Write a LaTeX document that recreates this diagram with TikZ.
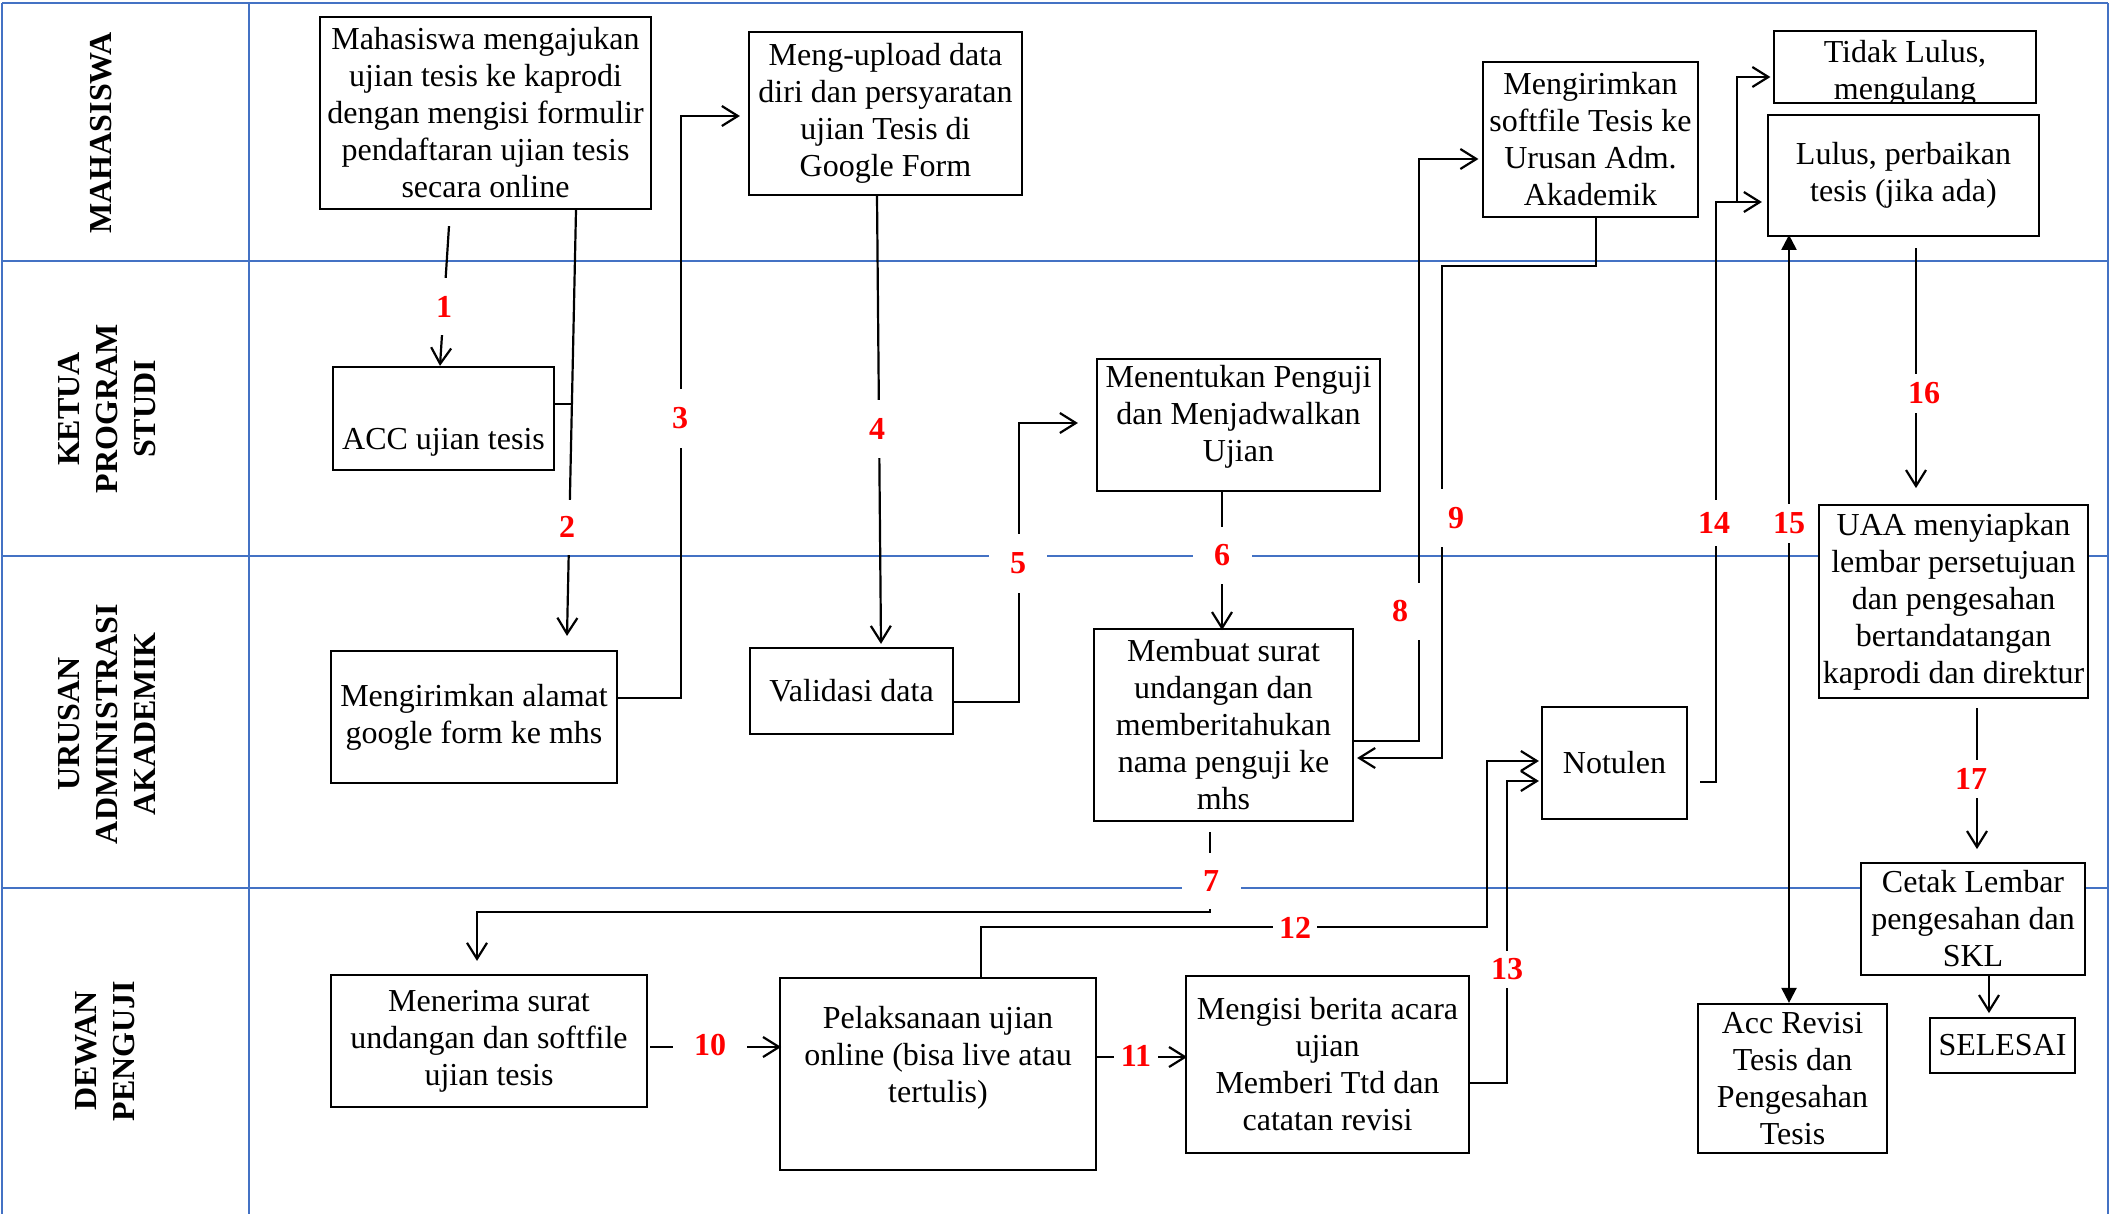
\documentclass[tikz,border=0pt]{standalone}
\usepackage{fontspec}
\setmainfont{Liberation Serif}
\usetikzlibrary{arrows.meta,calc}
\definecolor{laneblue}{HTML}{4472C4}
\begin{document}
\begin{tikzpicture}[x=0.5pt,y=-0.5pt,
  lane/.style={draw=laneblue, line width=0.6pt},
  bx/.style={draw, line width=1.1pt, fill=white, inner sep=0pt, align=center, font=\fontsize{16}{18.5}\selectfont},
  txt/.style={inner sep=0pt, align=center, font=\fontsize{16}{18.5}\selectfont},
  conn/.style={line width=1.1pt},
  arr/.style={conn, -{Straight Barb[length=8pt,width=10pt]}},
  dbl/.style={conn, {Triangle[length=7.5pt,width=7.5pt]}-{Triangle[length=7.5pt,width=7.5pt]}},
  num/.style={fill=white, inner sep=0pt, text=red, font=\fontsize{16}{18.5}\selectfont\bfseries},
  lanelab/.style={rotate=90, align=center, inner sep=0pt, font=\fontsize{16}{19}\selectfont\bfseries}]
\useasboundingbox (0,0) rectangle (2110,1214);
% lanes
\draw[lane] (2,3) -- (2108,3);
\draw[lane] (2,3) -- (2,1214);
\draw[lane] (2108,3) -- (2108,1214);
\draw[lane] (249,3) -- (249,1214);
\draw[lane] (2,261) -- (2108,261);
\draw[lane] (2,556) -- (2108,556);
\draw[lane] (2,888) -- (2108,888);
\node[lanelab] (ln1) at (101,133) {MAHASISWA};
\node[lanelab] (ln2) at (107,409) {KETUA\\PROGRAM\\STUDI};
\node[lanelab] (ln3) at (107,724) {URUSAN\\ADMINISTRASI\\AKADEMIK};
\node[lanelab] (ln4) at (105,1051) {DEWAN\\PENGUJI};
% boxes
\node[bx, minimum width=165.5pt, minimum height=96pt] (m1) at (485.5,113) {Mahasiswa mengajukan\\ujian tesis ke kaprodi\\dengan mengisi formulir\\pendaftaran ujian tesis\\secara online};
\node[bx, minimum width=110.5pt, minimum height=51.5pt] (acc) at (443.5,418.5) {};
\node[txt] (acct) at (443.5,442.5) {ACC ujian tesis};
\node[bx, minimum width=143pt, minimum height=66pt] (alamat) at (474,717) {Mengirimkan alamat\\google form ke mhs};
\node[bx, minimum width=136.5pt, minimum height=81.5pt] (upload) at (885.5,113.5) {Meng-upload data\\diri dan persyaratan\\ujian Tesis di\\Google Form};
\node[bx, minimum width=101.5pt, minimum height=43pt] (valid) at (851.5,691) {Validasi data};
\node[bx, minimum width=141.5pt, minimum height=66pt] (tentu) at (1238.5,425) {};
\node[txt] (tentut) at (1238.5,416.5) {Menentukan Penguji\\dan Menjadwalkan\\Ujian};
\node[bx, minimum width=129.5pt, minimum height=96pt] (buat) at (1223.5,725) {Membuat surat\\undangan dan\\memberitahukan\\nama penguji ke\\mhs};
\node[bx, minimum width=107.5pt, minimum height=77.5pt] (soft) at (1590.5,139.5) {Mengirimkan\\softfile Tesis ke\\Urusan Adm.\\Akademik};
\node[bx, draw=none, minimum width=130pt, minimum height=35pt] (tidak) at (1905,67) {};
\begin{scope}
\clip (tidak.south west) rectangle (tidak.north east);
\node[txt] (tidakt) at (1905,73) {Tidak Lulus,\\mengulang};
\end{scope}
\draw[line width=1.1pt] (tidak.south west) rectangle (tidak.north east);
\node[bx, minimum width=135.5pt, minimum height=60.5pt] (lulus) at (1903.5,175.5) {Lulus, perbaikan\\tesis (jika ada)};
\node[bx, minimum width=134.5pt, minimum height=96.5pt] (uaa) at (1953.5,601.5) {UAA menyiapkan\\lembar persetujuan\\dan pengesahan\\bertandatangan\\kaprodi dan direktur};
\node[bx, minimum width=112pt, minimum height=56pt] (cetak) at (1973,919) {Cetak Lembar\\pengesahan dan\\SKL};
\node[bx, minimum width=72.5pt, minimum height=27.5pt] (selesai) at (2002.5,1045.5) {SELESAI};
\node[bx, minimum width=72.5pt, minimum height=56pt] (notulen) at (1614.5,763) {Notulen};
\node[bx, minimum width=94.5pt, minimum height=74.5pt] (accrev) at (1792.5,1078.5) {Acc Revisi\\Tesis dan\\Pengesahan\\Tesis};
\node[bx, minimum width=141.5pt, minimum height=88.5pt] (isi) at (1327.5,1064.5) {Mengisi berita acara\\ujian\\Memberi Ttd dan\\catatan revisi};
\node[bx, minimum width=158pt, minimum height=96pt] (pel) at (938,1074) {};
\node[txt] (pelt) at (938,1058) {Pelaksanaan ujian\\online (bisa live atau\\tertulis)};
\node[bx, minimum width=158pt, minimum height=66pt] (terima) at (489,1041) {Menerima surat\\undangan dan softfile\\ujian tesis};
% connectors
\draw[arr] ([xshift=-18.25pt,yshift=-8pt]m1.south) -- ([xshift=-1.75pt]acc.north);
\draw[arr] ([xshift=45.25pt]m1.south) -- coordinate[pos=0.4556] (c2m) ([xshift=46.5pt,yshift=7pt]alamat.north);
\draw[conn] (c2m) -- (c2m -| acc.east);
\draw[arr] ([yshift=9.5pt]alamat.east) -- ++(31.5pt,0) |- ([xshift=-4pt,yshift=-1.25pt]upload.west);
\draw[arr] ([xshift=-4.25pt]upload.south) -- ([xshift=14.75pt,yshift=1.5pt]valid.north);
\draw[arr] ([yshift=-5.5pt]valid.east) -- ++(32.5pt,0) |- ([xshift=-9pt,yshift=1pt]tentu.west);
\draw[arr] ([xshift=-8.25pt]tentu.south) -- ++(0,-69pt);
\draw[arr] ([xshift=-6.75pt,yshift=-5pt]buat.south) -- ++(0,-40pt) -| ([xshift=-6pt,yshift=6.5pt]terima.north);
\draw[arr] ([yshift=-8pt]buat.east) -- ++(32.5pt,0) |- ([xshift=-1.75pt,yshift=-9.75pt]soft.west);
\draw[arr] ([xshift=2.75pt]soft.south) -- ++(0,-24pt) -- ++(-77pt,0) |- ([xshift=1.5pt,yshift=-16.5pt]buat.east);
\draw[arr] ([xshift=1pt,yshift=-3pt]terima.east) -- ++(65.5pt,0);
\draw[arr] ([yshift=8.5pt]pel.east) -- ++(45pt,0);
\draw[arr] ([xshift=21.5pt]pel.north) -- ++(0,25pt) -- ++(253pt,0) |- ([xshift=-1pt,yshift=1pt]notulen.west);
\draw[arr] ([yshift=-9.25pt]isi.east) -- ++(18.5pt,0) |- ([xshift=-1pt,yshift=-9pt]notulen.west);
\draw[arr] ([xshift=6pt,yshift=-9.5pt]notulen.east) -- ++(8pt,0) |- ([xshift=-2.5pt,yshift=-13.25pt]lulus.west);
\draw[arr] ([xshift=-15pt,yshift=-13.25pt]lulus.west) |- ([xshift=-1.75pt,yshift=-5pt]tidak.west);
\draw[dbl] ([xshift=-1.75pt]accrev.north) -- ++(0,384pt);
\draw[arr] ([xshift=6.25pt,yshift=-5.5pt]lulus.south) -- ++(0,-120pt);
\draw[arr] ([xshift=11.75pt,yshift=-4.5pt]uaa.south) -- ++(0,-70.5pt);
\draw[arr] ([xshift=8pt]cetak.south) -- ++(0,-18.5pt);
% number labels
\node[num, minimum width=15pt, minimum height=28.5pt] (l1) at (444,307) {1};
\node[num, minimum width=15pt, minimum height=27.5pt] (l2) at (567,527) {2};
\node[num, minimum width=17pt, minimum height=29.5pt] (l3) at (680,418) {3};
\node[num, minimum width=17pt, minimum height=29pt] (l4) at (877,429) {4};
\node[num, minimum width=29pt, minimum height=29.5pt] (l5) at (1018,563) {5};
\node[num, minimum width=29.5pt, minimum height=28.5pt] (l6) at (1222,555) {6};
\node[num, minimum width=29.5pt, minimum height=28pt] (l7) at (1211,881) {7};
\node[num, minimum width=20pt, minimum height=28.5pt] (l8) at (1400,611) {8};
\node[num, minimum width=18pt, minimum height=29pt] (l9) at (1456,518) {9};
\node[num, minimum width=37pt, minimum height=20pt] (l10) at (710,1045) {10};
\node[num, minimum width=22pt, minimum height=20pt] (l11) at (1136,1056) {11};
\node[num, minimum width=22pt, minimum height=20pt] (l12) at (1295,928) {12};
\node[num, minimum width=15pt, minimum height=18.5pt] (l13) at (1507,969) {13};
\node[num, minimum width=20pt, minimum height=23pt] (l14) at (1714,523) {14};
\node[num, minimum width=20pt, minimum height=19.5pt] (l15) at (1789,523) {15};
\node[num, minimum width=20pt, minimum height=19.5pt] (l16) at (1924,393) {16};
\node[num, minimum width=20pt, minimum height=19pt] (l17) at (1971,779) {17};
\end{tikzpicture}
\end{document}
